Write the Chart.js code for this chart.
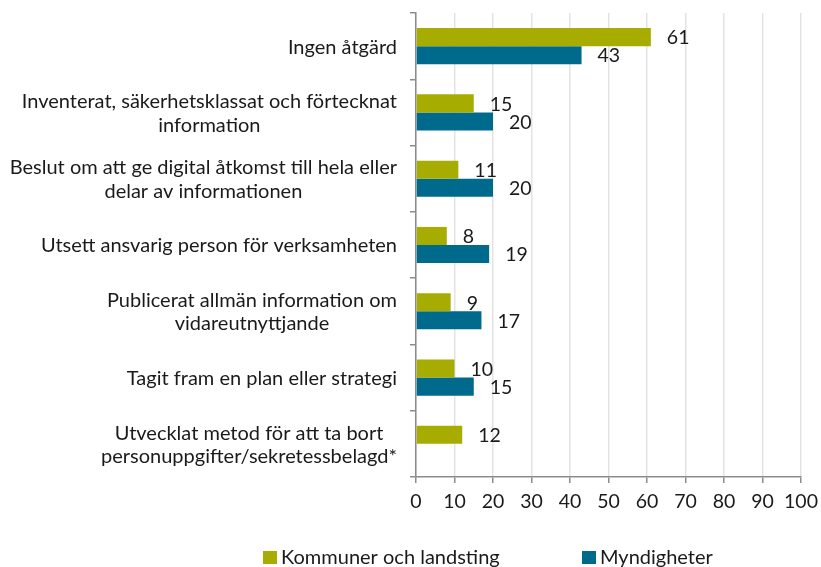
<!DOCTYPE html>
<html>
<head>
<meta charset="utf-8">
<script src="https://cdn.jsdelivr.net/npm/chart.js@4.4.1/dist/chart.umd.min.js"></script>
<style>
  html, body { margin: 0; padding: 0; background: #ffffff; }
  #wrap { width: 821px; height: 567px; }
</style>
</head>
<body>
<div id="wrap"><canvas id="main-chart"></canvas></div>
<script>
const categories = [
    ["Ingen åtgärd"],
    ["Inventerat, säkerhetsklassat och förtecknat", "information"],
    ["Beslut om att ge digital åtkomst till hela eller", "delar av informationen"],
    ["Utsett ansvarig person för verksamheten"],
    ["Publicerat allmän information om", "vidareutnyttjande"],
    ["Tagit fram en plan eller strategi"],
    ["Utvecklat metod för att ta bort", "personuppgifter/sekretessbelagd*"]
];
const kommuner_values = [61, 15, 11, 8, 9, 10, 12];
const myndigheter_values = [43, 20, 20, 19, 17, 15, null];
const series_names = ["Kommuner och landsting", "Myndigheter"];
const x_ticks = [0, 10, 20, 30, 40, 50, 60, 70, 80, 90, 100];

const green = "#a6ac00";
const blue = "#006a8c";
const font_family = "Lato, 'Open Sans', sans-serif";
const text_size = 20;
const num_size = 19.5;

// category labels: right aligned block, lines centered to each other
const categoryLabels = {
    id: "categoryLabels",
    afterDraw(chart) {
        const ctx = chart.ctx;
        const y_scale = chart.scales.y;
        const right = y_scale.right - 19;
        const line_h = 23.5;
        ctx.save();
        ctx.font = text_size + "px " + font_family;
        ctx.fillStyle = "#1a1a1a";
        ctx.textAlign = "center";
        ctx.textBaseline = "middle";
        categories.forEach((lines, i) => {
            const widest = Math.max(...lines.map(l => ctx.measureText(l).width));
            const cx = right - widest / 2;
            const cy = y_scale.getPixelForTick(i) + 1;
            lines.forEach((l, j) => {
                ctx.fillText(l, cx, cy + (j - (lines.length - 1) / 2) * line_h);
            });
        });
        ctx.restore();
    }
};

// value labels at bar ends
const valueLabels = {
    id: "valueLabels",
    afterDatasetsDraw(chart) {
        const ctx = chart.ctx;
        ctx.save();
        ctx.font = num_size + "px " + font_family;
        ctx.fillStyle = "#1a1a1a";
        ctx.textAlign = "left";
        ctx.textBaseline = "middle";
        chart.data.datasets.forEach((ds, di) => {
            chart.getDatasetMeta(di).data.forEach((bar, i) => {
                if (ds.data[i] == null) return;
                ctx.fillText(ds.data[i], bar.x + 16, bar.y + 1);
            });
        });
        ctx.restore();
    }
};

// legend at the bottom
const bottomLegend = {
    id: "bottomLegend",
    afterDraw(chart) {
        const ctx = chart.ctx;
        const spots = [263, 582];
        ctx.save();
        ctx.font = text_size + "px " + font_family;
        ctx.textAlign = "left";
        ctx.textBaseline = "middle";
        chart.data.datasets.forEach((ds, di) => {
            ctx.fillStyle = ds.backgroundColor;
            ctx.fillRect(spots[di], 551, 14, 13);
            ctx.fillStyle = "#1a1a1a";
            ctx.fillText(ds.label, spots[di] + 18, 558);
        });
        ctx.restore();
    }
};

const data = {
    labels: categories.map(c => c.join(" ")),
    datasets: [
        {
            label: series_names[0],
            data: kommuner_values,
            backgroundColor: green,
            categoryPercentage: 0.545,
            barPercentage: 1.0
        },
        {
            label: series_names[1],
            data: myndigheter_values,
            backgroundColor: blue,
            categoryPercentage: 0.545,
            barPercentage: 1.0
        }
    ]
};

const config = {
    type: "bar",
    data: data,
    options: {
        indexAxis: "y",
        responsive: true,
        maintainAspectRatio: false,
        animation: false,
        layout: {
            padding: { top: 13, right: 20, bottom: 50, left: 0 }
        },
        plugins: {
            legend: { display: false },
            tooltip: { enabled: false }
        },
        scales: {
            x: {
                min: 0,
                max: 100,
                afterBuildTicks(scale) {
                    scale.ticks = x_ticks.map(v => ({ value: v }));
                },
                afterFit(scale) {
                    scale.height = 40;
                    scale.paddingLeft = 0;
                    scale.paddingRight = 0;
                },
                grid: {
                    color: "#e3e3e3",
                    tickColor: "#8c8c8c",
                    tickLength: 6,
                    lineWidth: 1.5
                },
                border: { color: "#8c8c8c", width: 1.5 },
                ticks: {
                    color: "#1a1a1a",
                    padding: 7,
                    maxRotation: 0,
                    font: { family: font_family, size: num_size }
                }
            },
            y: {
                afterFit(scale) {
                    scale.width = 416;
                    scale.paddingTop = 0;
                    scale.paddingBottom = 0;
                },
                grid: {
                    offset: true,
                    drawOnChartArea: false,
                    tickColor: "#8c8c8c",
                    tickLength: 6,
                    lineWidth: 1.5
                },
                border: { color: "#8c8c8c", width: 1.5 },
                ticks: { display: false }
            }
        }
    },
    plugins: [categoryLabels, valueLabels, bottomLegend]
};

const main_chart = new Chart(document.getElementById("main-chart"), config);
</script>
</body>
</html>
